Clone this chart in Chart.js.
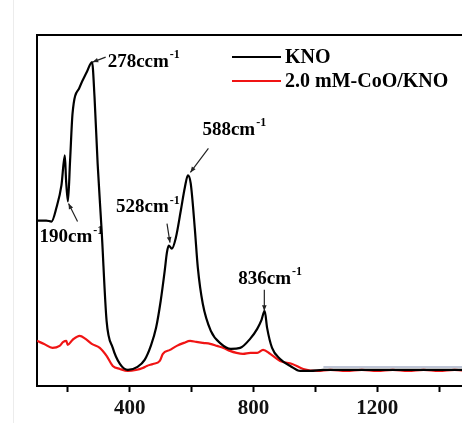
<!DOCTYPE html>
<html>
<head>
<meta charset="utf-8">
<script src="https://cdn.jsdelivr.net/npm/chart.js@4.4.0/dist/chart.umd.min.js"></script>
<style>
    html, body { margin: 0; padding: 0; background: #fff; overflow: hidden; }
    #wrap { width: 474px; height: 425px; }
</style>
</head>
<body>
<div id="wrap"><canvas id="ramanChart" width="474" height="425"></canvas></div>
<script>
// Raman shift (cm-1) and intensity (a.u.) for each sample
const knoShift = [100, 130, 147, 163, 179, 190, 194, 200, 207, 215, 238, 261, 278, 286, 296, 309, 325, 345, 368, 394,
    425, 448, 468, 485, 500, 513, 520, 526, 536, 549, 565, 578, 588, 597, 610, 620, 636, 662, 695, 727,
    757, 789, 812, 826, 836, 844, 860, 886, 919, 951, 984, 1026, 1100, 1200, 1300, 1400, 1500];
const knoInt = [165, 165, 164, 178, 200, 230, 205, 184, 225, 272, 298, 313, 323, 288, 222, 155, 65, 38, 22, 16,
    19, 26, 40, 58, 85, 115, 133, 140, 137, 148, 175, 198, 210, 202, 158, 118, 82, 55, 42, 37,
    38, 47, 57, 66, 75, 58, 38, 27, 20, 15, 15, 16, 16, 16, 16, 16, 16];

const cooShift = [100, 123, 150, 173, 185, 195, 199, 215, 238, 257, 277, 303, 325, 345, 368, 394, 420, 442, 455, 475,
    497, 507, 530, 552, 575, 595, 615, 637, 660, 682, 703, 724, 745, 766, 790, 812, 831, 854, 886, 925,
    961, 1006, 1049, 1100, 1150, 1200, 1250, 1300, 1350, 1400, 1450, 1500];
const cooInt = [45, 42, 38, 40, 44, 45, 41, 46, 50, 47, 42, 38, 30, 20, 17, 15, 16, 18, 20, 22,
    25, 32, 36, 40, 43, 45, 44, 43, 42, 40, 38, 35, 33, 32, 33, 33, 36, 32, 25, 22,
    17, 15, 16, 15, 16, 15, 16, 15, 16, 15, 16, 15];

// faint baseline trace on the right
const baseShift = [1026, 1500];
const baseInt = [19, 19];

const seriesNames = ['KNO', '2.0 mM-CoO/KNO'];
const xTicks = [200, 400, 600, 800, 1000, 1200, 1400];

// peak labels: text, arrow tip (shift, intensity)
const peakText = ['190cm', '278ccm', '528cm', '588cm', '836cm'];
const peakShift = [202, 280, 530, 596, 835];
const peakInt = [182, 323, 143, 213, 75];

const toPoints = (xs, ys) => xs.map((x, i) => ({ x: x, y: ys[i] }));

const SERIF = '"Liberation Serif", "Times New Roman", serif';

// pixel offsets for arrow tail and label, relative to arrow tip
const peakLayout = [
    { tail: [9, 18], text: [-29, 34] },
    { tail: [13, -5], text: [15, 0] },
    { tail: [-3, -19], text: [-54, -35] },
    { tail: [18, -24], text: [12, -42] },
    { tail: [0, -21], text: [-26, -32] }
];

function drawArrow(ctx, x1, y1, x2, y2) {
    const ang = Math.atan2(y2 - y1, x2 - x1);
    const head = 6;
    ctx.beginPath();
    ctx.moveTo(x1, y1);
    ctx.lineTo(x2, y2);
    ctx.stroke();
    ctx.beginPath();
    ctx.moveTo(x2, y2);
    ctx.lineTo(x2 - head * Math.cos(ang - 0.4), y2 - head * Math.sin(ang - 0.4));
    ctx.lineTo(x2 - head * Math.cos(ang + 0.4), y2 - head * Math.sin(ang + 0.4));
    ctx.closePath();
    ctx.fill();
}

function drawWavenumber(ctx, text, x, yMid) {
    ctx.font = 'bold 19px ' + SERIF;
    ctx.textBaseline = 'middle';
    ctx.textAlign = 'left';
    ctx.fillText(text, x, yMid);
    const w = ctx.measureText(text).width;
    ctx.font = 'bold 12px ' + SERIF;
    ctx.fillText('-1', x + w + 1, yMid - 7);
}

// frame top, legend and peak annotations
const decorPlugin = {
    id: 'decor',
    beforeDraw(chart) {
        const ctx = chart.ctx;
        ctx.save();
        ctx.strokeStyle = '#ececec';
        ctx.lineWidth = 1;
        ctx.beginPath();
        ctx.moveTo(13.5, 0);
        ctx.lineTo(13.5, chart.height);
        ctx.stroke();
        ctx.restore();
    },
    afterDraw(chart) {
        const ctx = chart.ctx;
        const area = chart.chartArea;
        const xs = chart.scales.x;
        const ys = chart.scales.y;
        ctx.save();

        ctx.strokeStyle = '#000';
        ctx.lineWidth = 2;
        ctx.beginPath();
        ctx.moveTo(area.left - 1, area.top);
        ctx.lineTo(area.right, area.top);
        ctx.stroke();

        // legend
        const legendColors = [chart.data.datasets[0].borderColor, chart.data.datasets[1].borderColor];
        seriesNames.forEach((name, i) => {
            const y = 57 + i * 24;
            ctx.strokeStyle = legendColors[i];
            ctx.lineWidth = 2;
            ctx.beginPath();
            ctx.moveTo(232, y);
            ctx.lineTo(281, y);
            ctx.stroke();
            ctx.fillStyle = '#000';
            ctx.font = 'bold 20px ' + SERIF;
            ctx.textBaseline = 'middle';
            ctx.textAlign = 'left';
            ctx.fillText(name, 285, y + 1);
        });

        // peak arrows and labels
        ctx.strokeStyle = '#222';
        ctx.fillStyle = '#222';
        ctx.lineWidth = 1.2;
        peakText.forEach((t, i) => {
            const tx = xs.getPixelForValue(peakShift[i]);
            const ty = ys.getPixelForValue(peakInt[i]);
            const lay = peakLayout[i];
            drawArrow(ctx, tx + lay.tail[0], ty + lay.tail[1], tx, ty);
        });
        ctx.fillStyle = '#000';
        peakText.forEach((t, i) => {
            const tx = xs.getPixelForValue(peakShift[i]);
            const ty = ys.getPixelForValue(peakInt[i]);
            const lay = peakLayout[i];
            drawWavenumber(ctx, t, tx + lay.text[0], ty + lay.text[1]);
        });
        ctx.restore();
    }
};

const ctx = document.getElementById('ramanChart').getContext('2d');
new Chart(ctx, {
    type: 'line',
    data: {
        datasets: [
            {
                label: seriesNames[0],
                data: toPoints(knoShift, knoInt),
                borderColor: '#000000',
                borderWidth: 2.2,
                cubicInterpolationMode: 'monotone',
                pointRadius: 0,
                order: 1
            },
            {
                label: seriesNames[1],
                data: toPoints(cooShift, cooInt),
                borderColor: '#f01414',
                borderWidth: 2.2,
                cubicInterpolationMode: 'monotone',
                pointRadius: 0,
                order: 2
            },
            {
                label: 'base',
                data: toPoints(baseShift, baseInt),
                borderColor: '#a9b2c8',
                borderWidth: 1.5,
                pointRadius: 0,
                order: 3
            }
        ]
    },
    options: {
        responsive: false,
        animation: false,
        devicePixelRatio: 1,
        layout: { padding: { left: 37, top: 35, right: 4, bottom: 0 } },
        plugins: { legend: { display: false }, tooltip: { enabled: false } },
        scales: {
            x: {
                type: 'linear',
                min: 100,
                max: 1500,
                afterBuildTicks: axis => { axis.ticks = xTicks.map(v => ({ value: v })); },
                ticks: {
                    autoSkip: false,
                    maxRotation: 0,
                    padding: 6,
                    color: '#111',
                    font: { family: SERIF, size: 21, weight: 'bold', lineHeight: 1.0 },
                    callback: v => (v % 400 === 0 ? String(v) : '')
                },
                grid: { drawOnChartArea: false, drawTicks: true, tickLength: 6, tickColor: '#000', tickWidth: 2 },
                border: { display: true, color: '#000', width: 2 }
            },
            y: {
                min: 0,
                max: 350,
                ticks: { display: false },
                grid: { display: false, drawTicks: false },
                border: { display: true, color: '#000', width: 2 }
            }
        }
    },
    plugins: [decorPlugin]
});
</script>
</body>
</html>
